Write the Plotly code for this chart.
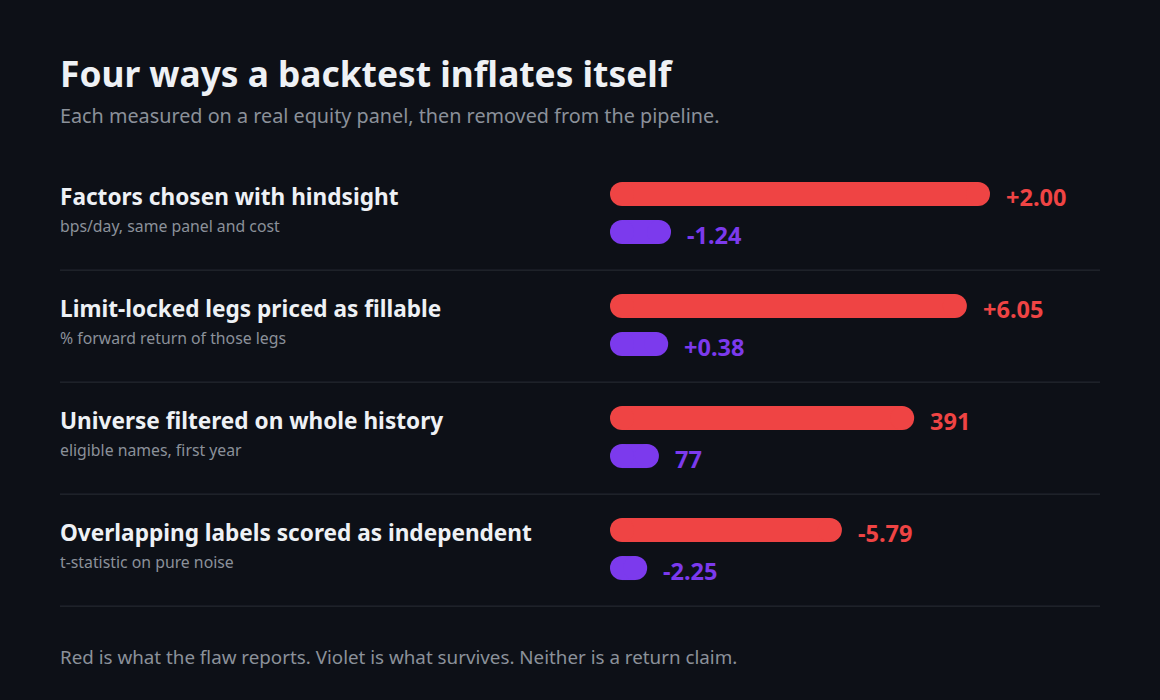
import plotly.graph_objects as go

# data
flaws = ["Factors chosen with hindsight", "Limit-locked legs priced as fillable",
         "Universe filtered on whole history", "Overlapping labels scored as independent"]
units = ["bps/day, same panel and cost", "% forward return of those legs",
         "eligible names, first year", "t-statistic on pure noise"]
reported_txt = ["+2.00", "+6.05", "391", "-5.79"]
survived_txt = ["-1.24", "+0.38", "77", "-2.25"]
# relative drawn length of each pill (row 1 red = 1)
reported_len = [1.00, 0.935, 0.787, 0.584]
survived_len = [0.104, 0.096, 0.070, 0.037]

BG = "#0d1017"
RED = "#ef4444"
VIOLET = "#7c3aed"
FONT = "Noto Sans"

fig = go.Figure()

W, H = 1160, 700
bar_px = 24   # pill thickness
offs = 0.17   # red above / violet below the row centre
left = 60 / W

for i in range(len(flaws)):
    for lens, labels, col, dy in [(reported_len, reported_txt, RED, -offs),
                                  (survived_len, survived_txt, VIOLET, offs)]:
        fig.add_trace(go.Scatter(
            x=[0, lens[i]], y=[i + dy, i + dy], mode="lines+markers",
            line=dict(color=col, width=bar_px),
            marker=dict(color=col, size=bar_px, line_width=0),
            hoverinfo="skip", showlegend=False))
        fig.add_annotation(x=lens[i], y=i + dy, xref="x", yref="y", text="<b>" + labels[i] + "</b>",
                           showarrow=False, xanchor="left", yanchor="middle",
                           xshift=bar_px / 2 + 14, yshift=-3,
                           font=dict(family=FONT, size=23.5, color=col))
    fig.add_annotation(x=left, y=i, xref="paper", yref="y", text="<b>" + flaws[i] + "</b>",
                       showarrow=False, xanchor="left", yanchor="middle", xshift=-2, yshift=17,
                       font=dict(family=FONT, size=22.6, color="#eef1f5"))
    fig.add_annotation(x=left, y=i, xref="paper", yref="y", text=units[i],
                       showarrow=False, xanchor="left", yanchor="middle", xshift=-2, yshift=-13,
                       font=dict(family=FONT, size=15.8, color="#8b919a"))
    # divider under each row
    fig.add_shape(type="line", xref="paper", yref="y", x0=left, x1=1100 / W,
                  y0=i + 0.51, y1=i + 0.51, line=dict(color="#2a2e36", width=1))

fig.add_annotation(x=left, y=1 - 73 / H, xref="paper", yref="paper",
                   text="<b>Four ways a backtest inflates itself</b>", showarrow=False,
                   xanchor="left", yanchor="middle", xshift=-2,
                   font=dict(family=FONT, size=35.3, color="#eef1f5"))
fig.add_annotation(x=left, y=1 - 116 / H, xref="paper", yref="paper",
                   text="Each measured on a real equity panel, then removed from the pipeline.",
                   showarrow=False, xanchor="left", yanchor="middle", xshift=-2,
                   font=dict(family=FONT, size=19.8, color="#8b919a"))
fig.add_annotation(x=left, y=1 - 657 / H, xref="paper", yref="paper",
                   text="Red is what the flaw reports. Violet is what survives. Neither is a return claim.",
                   showarrow=False, xanchor="left", yanchor="middle", xshift=-2,
                   font=dict(family=FONT, size=18.8, color="#8b919a"))

# x: 0 sits at the left cap centre (622 px), 1 unit = 356 px
x0_px, unit_px = 622, 356
# y: row centre 213 px, 112 px per row
y0_px, row_px = 213, 112
fig.update_layout(
    width=W, height=H, margin=dict(l=0, r=0, t=0, b=0),
    paper_bgcolor=BG, plot_bgcolor=BG,
    xaxis=dict(range=[-x0_px / unit_px, (W - x0_px) / unit_px], visible=False, fixedrange=True),
    yaxis=dict(range=[(H - y0_px) / row_px, -y0_px / row_px], visible=False, fixedrange=True),
)

fig.write_html("out.html", config={"displayModeBar": False},
               post_script="document.body.style.margin='0';document.body.style.background='%s';" % BG)
